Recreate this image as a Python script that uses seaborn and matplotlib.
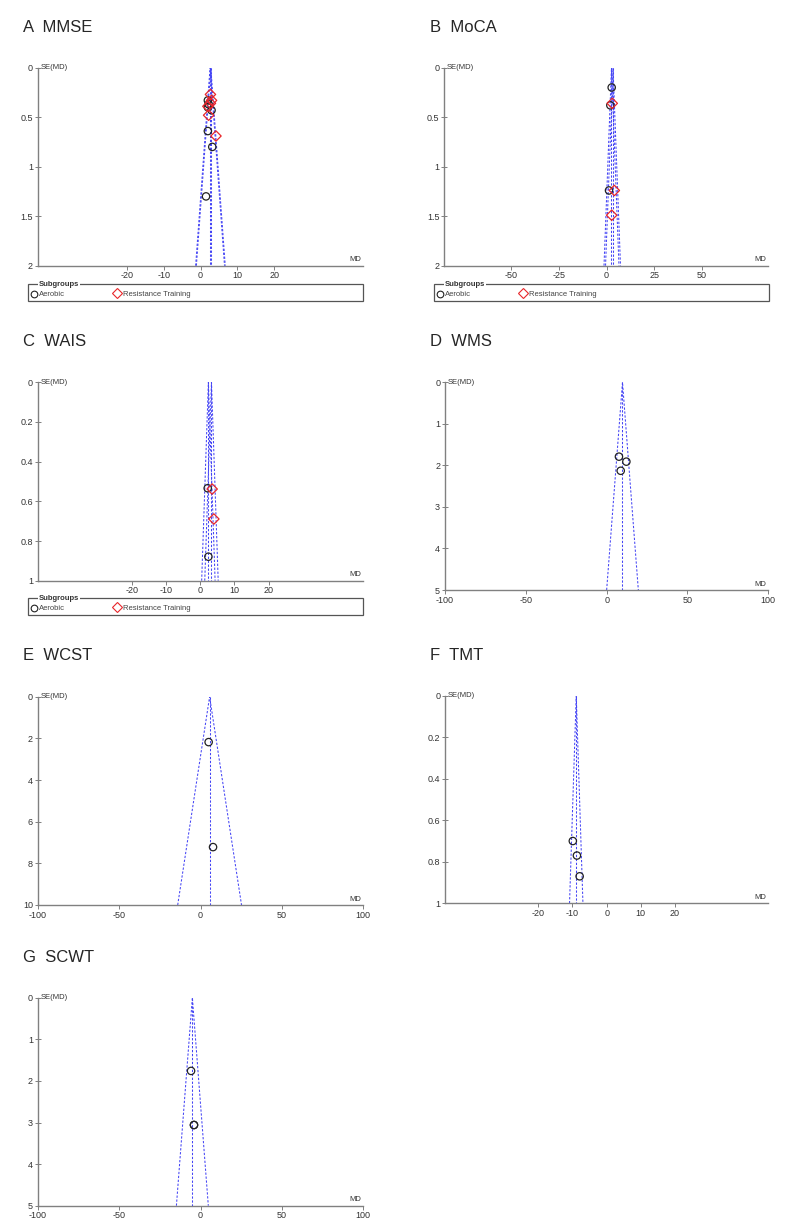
import matplotlib
matplotlib.use("Agg")
import matplotlib.pyplot as plt
import seaborn as sns
import numpy as np
import pandas as pd
from matplotlib.patches import Rectangle

# ---- data (MD, SE(MD)) ----
# A MMSE
mmse_aer_md = [2.0, 2.0, 3.0, 2.0, 3.2, 1.5, 2.2]
mmse_aer_se = [0.33, 0.40, 0.43, 0.64, 0.80, 1.30, 0.37]
mmse_res_md = [2.7, 3.0, 2.7, 2.0, 2.2, 4.2]
mmse_res_se = [0.27, 0.33, 0.36, 0.39, 0.48, 0.69]
mmse_pooled = [2.6, 2.8]

# B MoCA
moca_aer_md = [2.7, 2.0, 1.3]
moca_aer_se = [0.20, 0.38, 1.24]
moca_res_md = [3.0, 4.1, 2.7]
moca_res_se = [0.36, 1.24, 1.49]
moca_pooled = [2.6, 3.4]

# C WAIS
wais_aer_md = [2.2, 2.4]
wais_aer_se = [0.534, 0.879]
wais_res_md = [3.5, 4.0]
wais_res_se = [0.538, 0.689]
wais_pooled = [2.4, 3.3]

# D WMS
wms_md = [7.6, 12.2, 8.7]
wms_se = [1.79, 1.91, 2.13]
wms_pooled = [9.8]

# E WCST
wcst_md = [5.0, 7.7]
wcst_se = [2.18, 7.22]
wcst_pooled = [5.6]

# F TMT
tmt_md = [-9.9, -8.7, -7.9]
tmt_se = [0.70, 0.77, 0.87]
tmt_pooled = [-8.9]

# G SCWT
scwt_md = [-5.8, -4.0, -4.0]
scwt_se = [1.76, 3.06, 3.06]
scwt_pooled = [-5.0]

sns.set_style("white")
plt.rcParams["font.family"] = ["Liberation Sans", "DejaVu Sans"]

fig = plt.figure(figsize=(7.95, 12.29), dpi=100)
W, H = 795.0, 1229.0

FUNNEL = "#4545f5"
GREY = "#808080"


def make_ax(x0, x1, y0, y1):
    return fig.add_axes([x0 / W, 1 - y1 / H, (x1 - x0) / W, (y1 - y0) / H])


def funnel_panel(ax, df, pooled, xlim, xticks, semax, yticks):
    for c in pooled:
        kw = dict(color=FUNNEL, lw=0.75, ls=(0, (2.2, 1.6)))
        ax.plot([c - 1.96 * semax, c, c + 1.96 * semax], [semax, 0, semax], **kw)
        ax.plot([c, c], [0, semax], **kw)
    sns.scatterplot(data=df, x="md", y="se", hue="group", style="group",
                    palette={"Aerobic": "#222222", "Resistance Training": "#e8262a"},
                    markers={"Aerobic": "o", "Resistance Training": "D"},
                    s=28, facecolor="none", linewidth=0.9, legend=False, ax=ax,
                    zorder=5)
    # open markers: copy edge colours from hue
    for coll in ax.collections:
        fc = coll.get_facecolors()
        if len(fc):
            coll.set_edgecolors(fc)
            coll.set_facecolors("none")
    ax.set_xlim(*xlim)
    ax.set_ylim(semax, 0)
    ax.set_xticks(xticks)
    ax.set_yticks(yticks)
    ax.xaxis.set_major_formatter(matplotlib.ticker.FormatStrFormatter("%g"))
    ax.yaxis.set_major_formatter(matplotlib.ticker.FormatStrFormatter("%g"))
    ax.tick_params(axis="x", direction="out", length=3, width=0.7, color=GREY,
                   labelsize=6.5, labelcolor="#333333", pad=1)
    ax.tick_params(axis="y", direction="inout", length=5, width=0.7, color=GREY,
                   labelsize=6.5, labelcolor="#333333", pad=1)
    ax.tick_params(left=True, bottom=True)
    for s in ["top", "right"]:
        ax.spines[s].set_visible(False)
    for s in ["left", "bottom"]:
        ax.spines[s].set_color(GREY)
        ax.spines[s].set_linewidth(1.0)
    ax.set_xlabel("")
    ax.set_ylabel("")
    ax.text(0.008, 1.0, "SE(MD)", transform=ax.transAxes, fontsize=5.5,
            color="#333333", ha="left", va="center")
    ax.text(0.995, 0.012, "MD", transform=ax.transAxes, fontsize=5.5,
            color="#333333", ha="right", va="bottom")
    ax.patch.set_alpha(0)


def frame(md, se, group):
    return pd.DataFrame({"md": md, "se": se, "group": group})


def two_groups(aer_md, aer_se, res_md, res_se):
    return pd.concat([frame(aer_md, aer_se, "Aerobic"),
                      frame(res_md, res_se, "Resistance Training")],
                     ignore_index=True)


def legend_box(x0, x1, y0, y1):
    lax = make_ax(x0 - 2, x1 + 2, y0 - 2, y1 + 2)
    lax.set_xlim(x0 - 2, x1 + 2)
    lax.set_ylim(y1 + 2, y0 - 2)
    lax.axis("off")
    lax.add_patch(Rectangle((x0, y0), x1 - x0, y1 - y0,
                            fill=False, ec="#555555", lw=0.9, clip_on=False))
    lax.text(x0 + 11, y0, "Subgroups", fontsize=5.5, fontweight="bold",
             color="#333333", ha="left", va="center",
             bbox=dict(fc="white", ec="none", pad=0.6))
    lax.plot([x0 + 6], [y0 + 10], marker="o", ms=4.8, mfc="none",
             mec="#222222", mew=0.8)
    lax.text(x0 + 11, y0 + 10.5, "Aerobic", fontsize=5.5, color="#444444",
             ha="left", va="center")
    lax.plot([x0 + 89], [y0 + 9], marker="D", ms=4.6, mfc="none",
             mec="#e8262a", mew=0.8)
    lax.text(x0 + 95, y0 + 10.5, "Resistance Training", fontsize=5.5,
             color="#444444", ha="left", va="center")


def title(x, y, s):
    fig.text(x / W, 1 - y / H, s, fontsize=12, ha="left", va="center")


# A MMSE
ax = make_ax(37.7, 363.3, 67.7, 265.7)
funnel_panel(ax, two_groups(mmse_aer_md, mmse_aer_se, mmse_res_md, mmse_res_se),
             mmse_pooled, (-44.2, 44.2), [-20, -10, 0, 10, 20], 2,
             [0, 0.5, 1, 1.5, 2])
legend_box(28, 363, 284, 301)
title(23, 27, "A  MMSE")

# B MoCA
ax = make_ax(444.3, 768.0, 67.7, 265.7)
funnel_panel(ax, two_groups(moca_aer_md, moca_aer_se, moca_res_md, moca_res_se),
             moca_pooled, (-85, 84.6), [-50, -25, 0, 25, 50], 2,
             [0, 0.5, 1, 1.5, 2])
legend_box(434, 769, 284, 301)
title(430, 27, "B  MoCA")

# C WAIS
ax = make_ax(37.7, 363.3, 382.3, 580.7)
funnel_panel(ax, two_groups(wais_aer_md, wais_aer_se, wais_res_md, wais_res_se),
             wais_pooled, (-47.4, 47.6), [-20, -10, 0, 10, 20], 1,
             [0, 0.2, 0.4, 0.6, 0.8, 1])
legend_box(28, 363, 598, 615)
title(23, 342, "C  WAIS")

# D WMS
ax = make_ax(445.0, 768.3, 382.3, 590.0)
funnel_panel(ax, frame(wms_md, wms_se, "Aerobic"), wms_pooled, (-100, 100),
             [-100, -50, 0, 50, 100], 5, [0, 1, 2, 3, 4, 5])
title(430, 342, "D  WMS")

# E WCST
ax = make_ax(37.7, 363.3, 696.7, 905.0)
funnel_panel(ax, frame(wcst_md, wcst_se, "Aerobic"), wcst_pooled, (-100, 100),
             [-100, -50, 0, 50, 100], 10, [0, 2, 4, 6, 8, 10])
title(23, 656, "E  WCST")

# F TMT
ax = make_ax(445.0, 768.3, 695.7, 903.3)
funnel_panel(ax, frame(tmt_md, tmt_se, "Aerobic"), tmt_pooled, (-47.3, 47.3),
             [-20, -10, 0, 10, 20], 1, [0, 0.2, 0.4, 0.6, 0.8, 1])
title(430, 656, "F  TMT")

# G SCWT
ax = make_ax(37.7, 363.3, 997.7, 1205.7)
funnel_panel(ax, frame(scwt_md, scwt_se, "Aerobic"), scwt_pooled, (-100, 100),
             [-100, -50, 0, 50, 100], 5, [0, 1, 2, 3, 4, 5])
title(23, 957, "G  SCWT")

fig.savefig("out.png", dpi=100)
